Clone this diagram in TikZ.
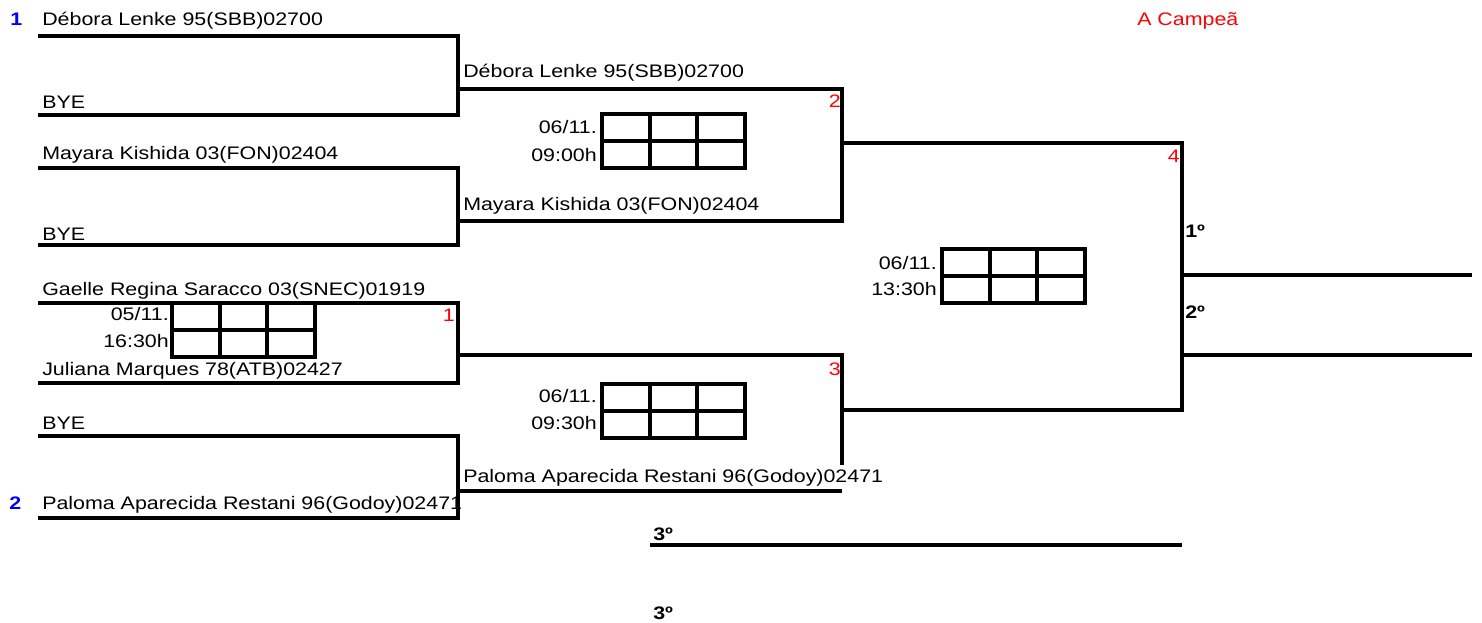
\documentclass[tikz,border=0pt]{standalone}
\usepackage{fontspec}
\setmainfont[FakeStretch=1.18]{Liberation Sans}

\tikzset{
  scorebox/.pic={
    \draw[cell] (0,0) rectangle (143,54);
    \draw[cell] (0,27) -- (143,27);
    \draw[cell] (48,0) -- (48,54) (95,0) -- (95,54);
  }
}

\begin{document}
\fontsize{13.6}{16}\selectfont
\begin{tikzpicture}[x=0.75pt, y=-0.75pt,
    player/.style={anchor=base west, inner sep=0pt},
    seed/.style={anchor=base west, inner sep=0pt, text=blue, font=\bfseries},
    gameno/.style={anchor=base east, inner sep=0pt, text=red},
    place/.style={anchor=base west, inner sep=0pt, font=\bfseries},
    stamp/.style={anchor=base east, inner sep=0pt},
    bracket/.style={line width=2.6pt},
    cell/.style={line width=2.3pt}]
        \useasboundingbox (0,0) rectangle (1482,623);

        % Coordinates
        \coordinate (a1) at (38,36);   \coordinate (a2) at (38,115);
        \coordinate (b1) at (38,168);  \coordinate (b2) at (38,245);
        \coordinate (c1) at (38,303);  \coordinate (c2) at (38,383);
        \coordinate (d1) at (38,436);  \coordinate (d2) at (38,518);
        \coordinate (e1) at (458,89);  \coordinate (e2) at (458,221);
        \coordinate (f1) at (458,355); \coordinate (f2) at (458,491);
        \coordinate (g1) at (842,143); \coordinate (g2) at (842,410);
        \coordinate (h1) at (1182,275); \coordinate (h2) at (1182,355);
        \coordinate (k1) at (650,545);

        % Nodes
        \node[seed] (s1) at (10,26) {1};
        \node[seed] (s2) at (9,509) {2};
        \node[player] (p1) at (42,26) {Débora Lenke 95(SBB)02700};
        \node[player] (p2) at (42,109) {BYE};
        \node[player] (p3) at (42,160) {Mayara Kishida 03(FON)02404};
        \node[player] (p4) at (42,241) {BYE};
        \node[player] (p5) at (42,296) {Gaelle Regina Saracco 03(SNEC)01919};
        \node[player] (p6) at (42,376) {Juliana Marques 78(ATB)02427};
        \node[player] (p7) at (42,430) {BYE};
        \node[player] (p8) at (42,509) {Paloma Aparecida Restani 96(Godoy)02471};
        \node[player] (q1) at (463,78) {Débora Lenke 95(SBB)02700};
        \node[player] (q2) at (463,211) {Mayara Kishida 03(FON)02404};
        \node[player] (q4) at (463,483) {Paloma Aparecida Restani 96(Godoy)02471};
        \node[gameno] (n1) at (455,322) {1};
        \node[gameno] (n2) at (841,108) {2};
        \node[gameno] (n3) at (841,376) {3};
        \node[gameno] (n4) at (1180,163) {4};
        \node[place] (first) at (1185,238) {1º};
        \node[place] (second) at (1185,319) {2º};
        \node[place] (third) at (653,540) {3º};
        \node[place] (thirdb) at (653,619) {3º};
        \node[player, text=red] (champ) at (1137,26) {A Campeã};

        % Score boxes
        \pic at (172,303) {scorebox};
        \node[stamp] (date1) at (169,321) {05/11.};
        \node[stamp] (time1) at (169,348) {16:30h};
        \pic at (602,114) {scorebox};
        \node[stamp] (date2) at (597,134) {06/11.};
        \node[stamp] (time2) at (597,162) {09:00h};
        \pic at (602,384) {scorebox};
        \node[stamp] (date3) at (597,403) {06/11.};
        \node[stamp] (time3) at (597,430) {09:30h};
        \pic at (942,249) {scorebox};
        \node[stamp] (date4) at (937,270) {06/11.};
        \node[stamp] (time4) at (937,296) {13:30h};

        % Brackets
        \draw[bracket] (a1) -- ++(420,0) |- (a2);
        \draw[bracket] (b1) -- ++(420,0) |- (b2);
        \draw[bracket] (c1) -- ++(420,0) |- (c2);
        \draw[bracket] (d1) -- ++(420,0) |- (d2);
        \draw[bracket] (e1) -- ++(384,0) |- (e2);
        \draw[bracket] (f1) -- ++(384,0) -- ++(0,110);
        \draw[bracket] (f2) -- ++(384,0);
        \draw[bracket] (g1) -- ++(340,0) |- (g2);
        \draw[bracket] (h1) -- ++(290,0);
        \draw[bracket] (h2) -- ++(290,0);
        \draw[bracket] (k1) -- ++(532,0);
    \end{tikzpicture}
\end{document}
